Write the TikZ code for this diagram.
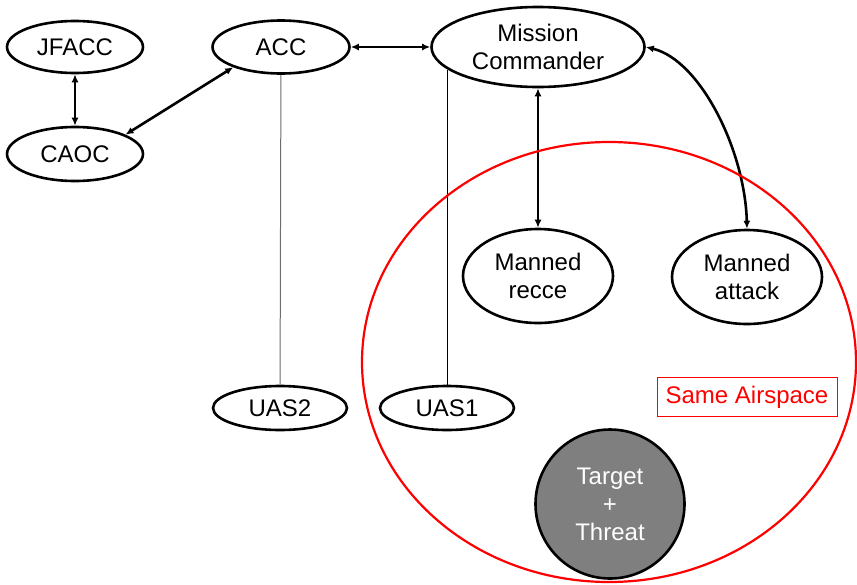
\documentclass[tikz,border=0pt]{standalone}
\usepackage{fontspec}
\setmainfont{Liberation Sans}
\usetikzlibrary{shapes.geometric,arrows.meta}
\definecolor{tgtgray}{HTML}{7F7F7F}
\begin{document}
\begin{tikzpicture}[x=1pt,y=-1pt,
  every node/.style={font=\fontsize{24}{28}\selectfont},
  oval/.style={ellipse, draw, line width=2.6pt, fill=white, inner sep=0pt, align=center},
  link/.style={line width=2.6pt, {Latex[length=8pt,width=7pt]}-{Latex[length=8pt,width=7pt]}},
  thinline/.style={line width=1pt}]
\useasboundingbox (0,0) rectangle (857,584);
\node[oval, minimum width=136pt, minimum height=52pt] (jfacc) at (75,47) {JFACC};
\node[oval, minimum width=136pt, minimum height=54pt] (caoc) at (75,154) {CAOC};
\node[oval, minimum width=137pt, minimum height=53pt] (acc) at (281,47) {ACC};
\node[oval, minimum width=213pt, minimum height=80pt] (mc) at (538,47) {Mission\\Commander};
\node[oval, minimum width=150pt, minimum height=94pt] (recce) at (538,276) {Manned\\recce};
\node[oval, minimum width=150pt, minimum height=94pt] (attack) at (747,277) {Manned\\attack};
\node[oval, minimum width=134pt, minimum height=44pt] (uas2) at (280,408) {UAS2};
\node[oval, minimum width=134pt, minimum height=44pt] (uas1) at (447,408) {UAS1};
\node[circle, draw, line width=2.6pt, fill=tgtgray, text=white, inner sep=0pt, minimum size=149pt, align=center] (target) at (610,504) {Target\\+\\Threat};
\node[draw=red, line width=1pt, text=red, minimum width=180pt, minimum height=39pt, inner sep=0pt] (same) at (747,397) {Same Airspace};

\draw[link] (jfacc) -- (caoc);
\draw[link] (caoc.21) -- (acc.203);
\draw[link] (acc) -- (mc);
\draw[link] (mc) -- (recce);
\draw[link] (mc.east) .. controls (700,60) and (745,150) .. (attack.north);
\draw[thinline, gray!85!black] (acc) -- (uas2);
\draw[thinline] (uas1.north |- mc.194) -- (uas1.north);

\node[ellipse, draw=red, line width=2.2pt, minimum width=494pt, minimum height=440pt, inner sep=0pt] (airspace) at (609,362) {};
\end{tikzpicture}
\end{document}
